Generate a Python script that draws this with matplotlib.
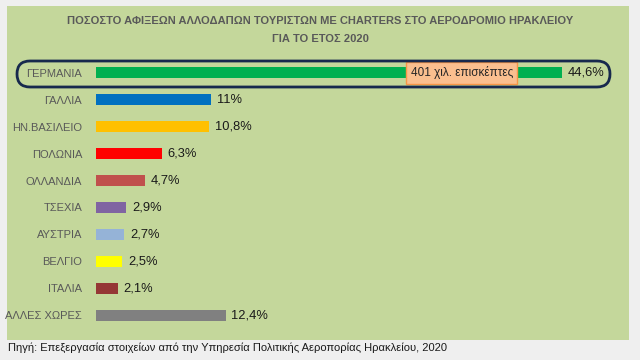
import matplotlib
matplotlib.use("Agg")
import matplotlib.pyplot as plt
from matplotlib.patches import Rectangle, FancyBboxPatch
from matplotlib.transforms import IdentityTransform

plt.rcParams['font.family'] = ['Liberation Sans Narrow', 'Liberation Sans', 'DejaVu Sans']

# data
countries = ["ΓΕΡΜΑΝΙΑ", "ΓΑΛΛΙΑ", "ΗΝ.ΒΑΣΙΛΕΙΟ", "ΠΟΛΩΝΙΑ", "ΟΛΛΑΝΔΙΑ",
             "ΤΣΕΧΙΑ", "ΑΥΣΤΡΙΑ", "ΒΕΛΓΙΟ", "ΙΤΑΛΙΑ", "ΑΛΛΕΣ ΧΩΡΕΣ"]
shares = [44.6, 11, 10.8, 6.3, 4.7, 2.9, 2.7, 2.5, 2.1, 12.4]
share_labels = ["44,6%", "11%", "10,8%", "6,3%", "4,7%",
                "2,9%", "2,7%", "2,5%", "2,1%", "12,4%"]
colors = ["#00b050", "#0070c0", "#ffc000", "#ff0000", "#c0504d",
          "#8064a2", "#95b3d7", "#ffff00", "#953735", "#808080"]
title = "ΠΟΣΟΣΤΟ ΑΦΙΞΕΩΝ ΑΛΛΟΔΑΠΩΝ ΤΟΥΡΙΣΤΩΝ ΜΕ CHARTERS ΣΤΟ ΑΕΡΟΔΡΟΜΙΟ ΗΡΑΚΛΕΙΟΥ\nΓΙΑ ΤΟ ΕΤΟΣ 2020"
callout = "401 χιλ. επισκέπτες"
source = "Πηγή: Επεξεργασία στοιχείων από την Υπηρεσία Πολιτικής Αεροπορίας Ηρακλείου, 2020"

W, H = 640, 360
fig = plt.figure(figsize=(W / 100, H / 100), dpi=100, facecolor="#efefef")

# green panel behind everything
fig.patches.append(Rectangle((7 / W, 1 - 340 / H), 622 / W, 334 / H,
                             transform=fig.transFigure, facecolor="#c4d79b",
                             edgecolor="none", zorder=-10))

ax = fig.add_axes([96 / W, 1 - 328.5 / H, 522.5 / W, 269 / H])
ax.set_facecolor("none")
ypos = list(range(len(countries)))
ax.barh(ypos, shares, height=0.41, color=colors, zorder=3)
for y, v, lab in zip(ypos, shares, share_labels):
    ax.text(v + 0.55, y, lab, va="center", ha="left", fontsize=9.3, color="#1a1a1a")
ax.set_xlim(0, 50)
ax.set_ylim(9.5, -0.5)
ax.set_yticks(ypos)
ax.set_yticklabels(countries, fontsize=8, color="#595959")
ax.tick_params(axis="y", length=0, pad=10)
ax.set_xticks([])
for s in ax.spines.values():
    s.set_visible(False)

fig.text(0.5, 1 - 30 / H, title, ha="center", va="center", fontsize=8,
         fontweight="bold", color="#595959", linespacing=1.9)

# rounded frame around Germany row
fig.patches.append(FancyBboxPatch((17, H - 87), 593, 26,
                                  boxstyle="round,pad=0,rounding_size=13",
                                  transform=IdentityTransform(), facecolor="none",
                                  edgecolor="#17294d", linewidth=2, zorder=5))

ax.text(35, 0, callout, ha="center", va="center", fontsize=8.5, color="#262626",
        zorder=6, bbox=dict(boxstyle="square,pad=0.35", facecolor="#fabf8f",
                            edgecolor="#f79646", linewidth=1))

fig.text(8 / W, 1 - 348 / H, source, ha="left", va="center", fontsize=8, color="#1a1a1a")

fig.savefig("out.png", dpi=100, facecolor=fig.get_facecolor())
